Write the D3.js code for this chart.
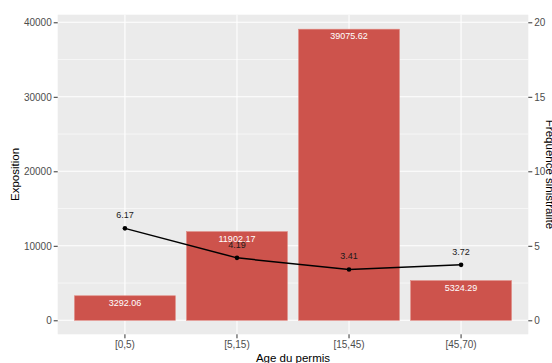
<!DOCTYPE html>
<html>
<head>
<meta charset="utf-8">
<script src="https://cdn.jsdelivr.net/npm/d3@7"></script>
<style>
  body { margin: 0; background: #fff; }
  svg { display: block; font-family: "Liberation Sans", Arial, sans-serif; }
</style>
</head>
<body>
<svg id="chart" width="552" height="363"></svg>
<script>
// Exposure and claim frequency by licence age band
const categories = ["[0,5)", "[5,15)", "[15,45)", "[45,70)"];
const exposition = [3292.06, 11902.17, 39075.62, 5324.29];
const frequence = [6.17, 4.19, 3.41, 3.72];
const leftTicks = [0, 10000, 20000, 30000, 40000];
const rightTicks = [0, 5, 10, 15, 20];
const ratio = 2000; // secondary axis = exposition / ratio

const svg = d3.select("#chart");
const panel = { left: 57.7, right: 528.3, top: 14.7, bottom: 334.3 };

const y = d3.scaleLinear().domain([0, 40000]).range([320.3, 22.3]);
const yRight = d3.scaleLinear().domain([0, 40000 / ratio]).range([320.3, 22.3]);

const x = d3.scaleBand()
  .domain(categories)
  .range([panel.left, panel.right])
  .paddingInner(0.1)
  .paddingOuter(0.15);

const cx = d => x(d) + x.bandwidth() / 2;

// panel background
svg.append("rect")
  .attr("x", panel.left).attr("y", panel.top)
  .attr("width", panel.right - panel.left).attr("height", panel.bottom - panel.top)
  .attr("fill", "#EBEBEB");

const grid = svg.append("g");
// minor horizontal grid
const minor = [5000, 15000, 25000, 35000];
grid.selectAll("line.minor").data(minor).enter().append("line")
  .attr("x1", panel.left).attr("x2", panel.right)
  .attr("y1", d => y(d)).attr("y2", d => y(d))
  .attr("stroke", "#fff").attr("stroke-width", 0.6);
// major horizontal grid
grid.selectAll("line.major").data(leftTicks).enter().append("line")
  .attr("x1", panel.left).attr("x2", panel.right)
  .attr("y1", d => y(d)).attr("y2", d => y(d))
  .attr("stroke", "#fff").attr("stroke-width", 1.1);
// vertical grid
grid.selectAll("line.v").data(categories).enter().append("line")
  .attr("x1", d => cx(d)).attr("x2", d => cx(d))
  .attr("y1", panel.top).attr("y2", panel.bottom)
  .attr("stroke", "#fff").attr("stroke-width", 1.1);

// bars
svg.append("g").selectAll("rect").data(categories).enter().append("rect")
  .attr("x", d => x(d))
  .attr("width", x.bandwidth())
  .attr("y", (d, i) => y(exposition[i]))
  .attr("height", (d, i) => y(0) - y(exposition[i]))
  .attr("fill", "#CD534C")
  .attr("stroke", "#E08880")
  .attr("stroke-width", 0.6);

// bar labels
svg.append("g").selectAll("text").data(categories).enter().append("text")
  .attr("x", d => cx(d))
  .attr("y", (d, i) => y(exposition[i]) + 10)
  .attr("text-anchor", "middle")
  .attr("font-size", 9)
  .attr("fill", "#fff")
  .text((d, i) => exposition[i].toFixed(2));

// frequency line
const line = d3.line()
  .x((d, i) => cx(categories[i]))
  .y(d => yRight(d));
svg.append("path")
  .datum(frequence)
  .attr("d", line)
  .attr("fill", "none")
  .attr("stroke", "#000")
  .attr("stroke-width", 1.5);
svg.append("g").selectAll("circle").data(frequence).enter().append("circle")
  .attr("cx", (d, i) => cx(categories[i]))
  .attr("cy", d => yRight(d))
  .attr("r", 2.3)
  .attr("fill", "#000");
svg.append("g").selectAll("text").data(frequence).enter().append("text")
  .attr("x", (d, i) => cx(categories[i]))
  .attr("y", d => yRight(d) - 10)
  .attr("text-anchor", "middle")
  .attr("font-size", 9)
  .attr("fill", "#1a1a1a")
  .text(d => d.toFixed(2));

// axes
const tickStyle = g => {
  g.select(".domain").remove();
  g.selectAll(".tick line").attr("stroke", "#333").attr("stroke-width", 1);
  g.selectAll(".tick text").attr("fill", "#4D4D4D").attr("font-size", 10)
    .attr("font-family", "Liberation Sans, Arial, sans-serif");
};

svg.append("g")
  .attr("transform", `translate(${panel.left},0)`)
  .call(d3.axisLeft(y).tickValues(leftTicks).tickSize(4).tickPadding(2).tickFormat(d3.format("d")))
  .call(tickStyle);

svg.append("g")
  .attr("transform", `translate(${panel.right},0)`)
  .call(d3.axisRight(yRight).tickValues(rightTicks).tickSize(4).tickPadding(2))
  .call(tickStyle);

svg.append("g")
  .attr("transform", `translate(0,${panel.bottom})`)
  .call(d3.axisBottom(x).tickSize(4).tickPadding(3))
  .call(tickStyle);

// axis titles
svg.append("text")
  .attr("transform", `translate(19,${(panel.top + panel.bottom) / 2}) rotate(-90)`)
  .attr("text-anchor", "middle")
  .attr("font-size", 11.5)
  .attr("fill", "#000")
  .text("Exposition");

svg.append("text")
  .attr("transform", `translate(546,${(panel.top + panel.bottom) / 2}) rotate(90)`)
  .attr("text-anchor", "middle")
  .attr("font-size", 11.5)
  .attr("fill", "#000")
  .text("Frequence sinistralite");

svg.append("text")
  .attr("x", (panel.left + panel.right) / 2)
  .attr("y", 362)
  .attr("text-anchor", "middle")
  .attr("font-size", 11.5)
  .attr("fill", "#000")
  .text("Age du permis");
</script>
</body>
</html>
